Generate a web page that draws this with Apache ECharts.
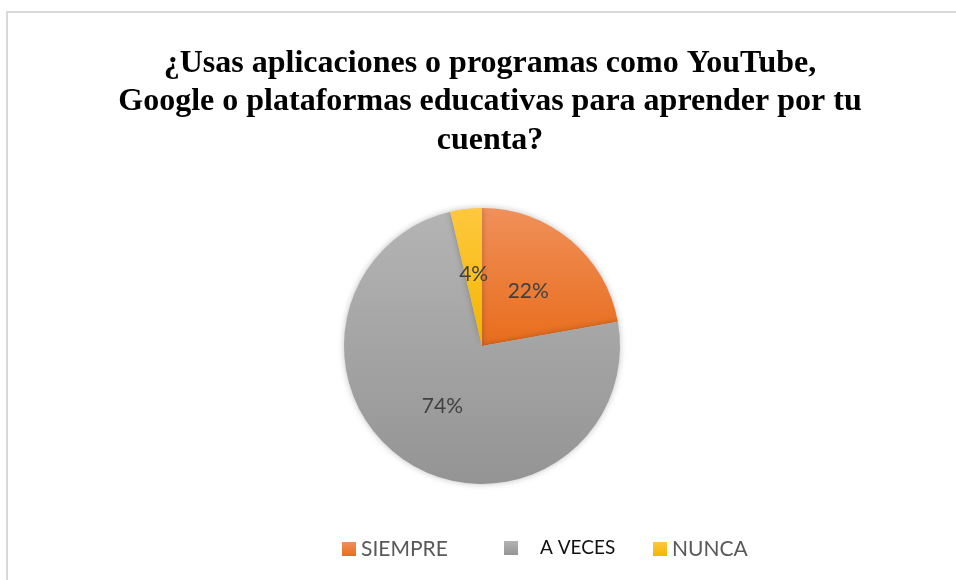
<!DOCTYPE html>
<html>
<head>
<meta charset="utf-8">
<script src="https://cdn.jsdelivr.net/npm/echarts@6/dist/echarts.min.js"></script>
<style>html,body{margin:0;padding:0;background:#fff;}#c{width:956px;height:580px;}</style>
</head>
<body>
<div id="c"></div>
<script>
const titleLines = ['¿Usas aplicaciones o programas como YouTube,', 'Google o plataformas educativas para aprender por tu', 'cuenta?'];
const categories = ['SIEMPRE', 'A VECES', 'NUNCA'];
const values = [22.2, 74.1, 3.7];
const topColors = ['#f0905a', '#b4b4b4', '#ffc83e'];
const bottomColors = ['#e86d1c', '#949494', '#f2b600'];

const chart = echarts.init(document.getElementById('c'));
function grad(i){
  return new echarts.graphic.LinearGradient(0,0,0,1,[{offset:0,color:topColors[i]},{offset:1,color:bottomColors[i]}]);
}
const legendBase = {
  orient:'horizontal', icon:'rect', itemWidth:14, itemHeight:14, top:538.5, padding:0,
  selectedMode:false,
  textStyle:{fontFamily:'Lato', fontSize:21, color:'#595959'}
};
const legendLefts = [342, 504, 653];
const legends = categories.map((c,i)=>{
  const l = Object.assign({}, legendBase, {left:legendLefts[i], data:[c]});
  if(i===1){ l.textStyle = {fontFamily:'Lato', fontSize:19, color:'#111', padding:[0,0,8,17]}; }
  return l;
});
chart.setOption({
  animation:false,
  backgroundColor:'#fff',
  graphic:[
    {type:'rect', shape:{x:7, y:12, width:1000, height:1000}, style:{fill:'none', stroke:'#d9d9d9', lineWidth:2}, silent:true},
    {type:'text', x:490, y:44, style:{text:titleLines.join('\n'), font:'bold 32px "Liberation Serif"', fill:'#000', align:'center', verticalAlign:'top', lineHeight:38.5}}
  ],
  legend: legends,
  series:[{
    type:'pie',
    center:[482,346],
    radius:[0,138],
    startAngle:90,
    clockwise:true,
    percentPrecision:0,
    label:{show:true, position:'inside', formatter:'{d}%', fontFamily:'Lato', fontSize:21, color:'#404040'},
    labelLine:{show:false},
    itemStyle:{shadowBlur:6, shadowColor:'rgba(0,0,0,0.25)', borderWidth:0},
    emphasis:{disabled:true},
    data: categories.map((c,i)=>({name:c, value:values[i], itemStyle:{color:grad(i)}}))
  }]
});
</script>
</body>
</html>
